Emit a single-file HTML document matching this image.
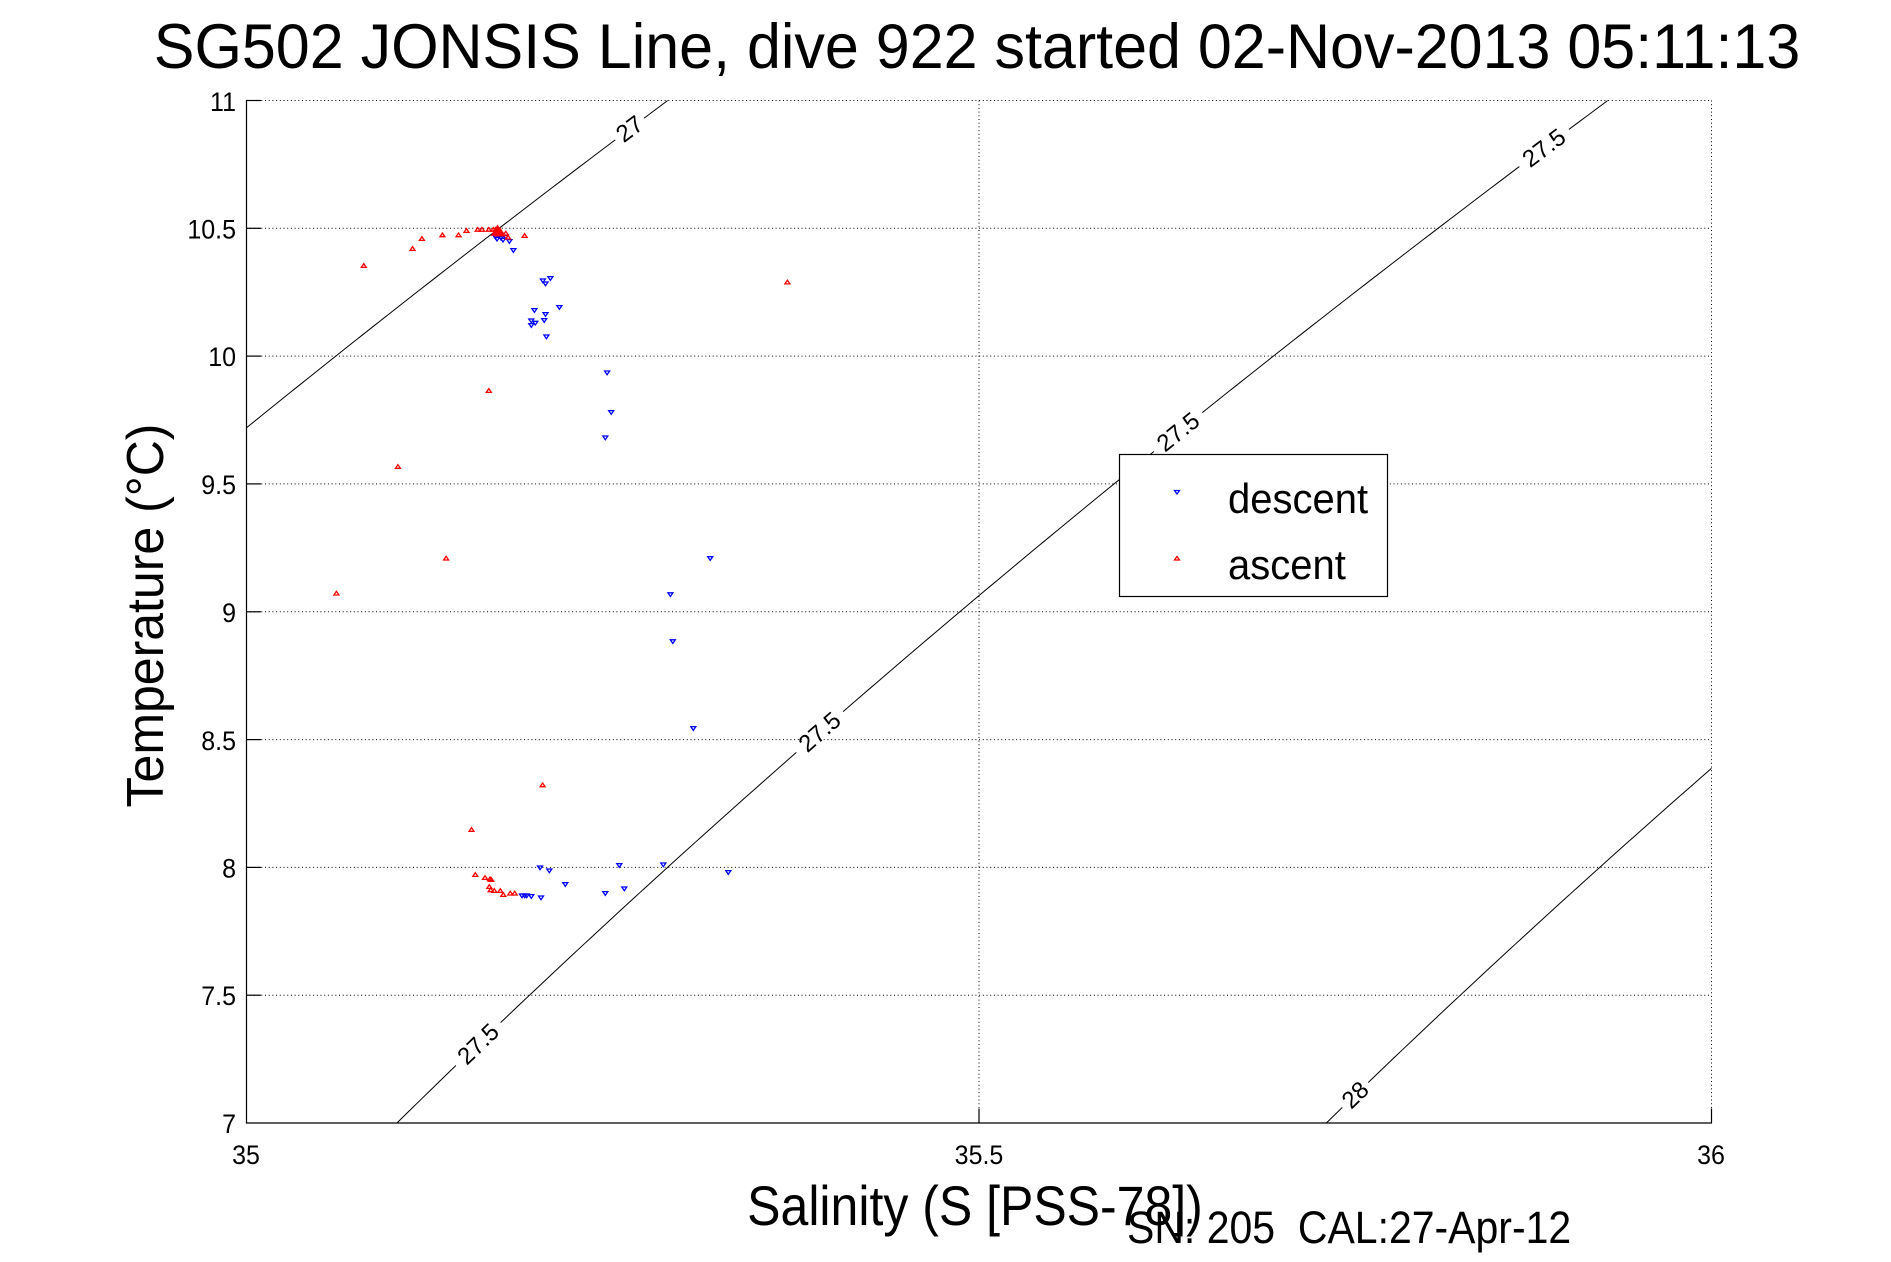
<!DOCTYPE html>
<html>
<head>
<meta charset="utf-8">
<style>
  html, body { margin: 0; padding: 0; background: #ffffff; }
  svg { display: block; }
  text { font-family: "Liberation Sans", Arial, Helvetica, sans-serif; fill: #000; }
</style>
</head>
<body>
<svg id="chart" xmlns="http://www.w3.org/2000/svg" width="1891" height="1262" viewBox="0 0 1891 1262">
  <rect x="0" y="0" width="1891" height="1262" fill="#ffffff"/>
  <defs>
    <clipPath id="plotclip">
      <rect x="246.5" y="100.5" width="1465" height="1022.5"/>
    </clipPath>
  </defs>

  <!-- Title -->
  <text transform="translate(977,68) scale(1,1.03)" x="0" y="0" font-size="61" text-anchor="middle">SG502 JONSIS Line, dive 922 started 02-Nov-2013 05:11:13</text>

  <!-- Grid (dotted) -->
  <g stroke="#000" stroke-width="1" stroke-dasharray="1 2.7" fill="none">
    <line x1="246.5" y1="100.5" x2="1711.5" y2="100.5"/>
    <line x1="246.5" y1="228.3" x2="1711.5" y2="228.3"/>
    <line x1="246.5" y1="356.1" x2="1711.5" y2="356.1"/>
    <line x1="246.5" y1="483.9" x2="1711.5" y2="483.9"/>
    <line x1="246.5" y1="611.8" x2="1711.5" y2="611.8"/>
    <line x1="246.5" y1="739.6" x2="1711.5" y2="739.6"/>
    <line x1="246.5" y1="867.4" x2="1711.5" y2="867.4"/>
    <line x1="246.5" y1="995.2" x2="1711.5" y2="995.2"/>
    <line x1="979" y1="100.5" x2="979" y2="1123"/>
    <line x1="1711.5" y1="100.5" x2="1711.5" y2="1123"/>
  </g>

  <!-- Isopycnals (generated) -->
  <g id="iso" clip-path="url(#plotclip)" stroke="#000" stroke-width="1" fill="none"></g>

  <!-- Axes -->
  <g stroke="#000" stroke-width="1.2" fill="none">
    <line x1="246.5" y1="100" x2="246.5" y2="1123.5"/>
    <line x1="246" y1="1123" x2="1712" y2="1123"/>
    <line x1="246.5" y1="100.5" x2="261" y2="100.5"/>
    <line x1="246.5" y1="228.3" x2="261" y2="228.3"/>
    <line x1="246.5" y1="356.1" x2="261" y2="356.1"/>
    <line x1="246.5" y1="483.9" x2="261" y2="483.9"/>
    <line x1="246.5" y1="611.8" x2="261" y2="611.8"/>
    <line x1="246.5" y1="739.6" x2="261" y2="739.6"/>
    <line x1="246.5" y1="867.4" x2="261" y2="867.4"/>
    <line x1="246.5" y1="995.2" x2="261" y2="995.2"/>
    <line x1="979" y1="1123" x2="979" y2="1108.5"/>
    <line x1="1711.5" y1="1123" x2="1711.5" y2="1108.5"/>
  </g>

  <!-- Y tick labels -->
  <g font-size="25" text-anchor="end">
    <text transform="translate(236,111) scale(1,1.07)">11</text>
    <text transform="translate(236,238.5) scale(1,1.07)">10.5</text>
    <text transform="translate(236,366) scale(1,1.07)">10</text>
    <text transform="translate(236,494) scale(1,1.07)">9.5</text>
    <text transform="translate(236,622) scale(1,1.07)">9</text>
    <text transform="translate(236,750) scale(1,1.07)">8.5</text>
    <text transform="translate(236,877.5) scale(1,1.07)">8</text>
    <text transform="translate(236,1005) scale(1,1.07)">7.5</text>
    <text transform="translate(236,1133) scale(1,1.07)">7</text>
  </g>
  <!-- X tick labels -->
  <g font-size="25" text-anchor="middle">
    <text transform="translate(246,1164) scale(1,1.07)">35</text>
    <text transform="translate(979,1164) scale(1,1.07)">35.5</text>
    <text transform="translate(1711,1164) scale(1,1.07)">36</text>
  </g>

  <!-- Axis labels -->
  <text transform="translate(975,1225) scale(1,1.12)" font-size="50" text-anchor="middle">Salinity (S [PSS-78])</text>
  <text transform="translate(163,615.5) rotate(-90) scale(1,1.04)" font-size="50" text-anchor="middle">Temperature (°C)</text>

  <!-- Descent markers (blue, down triangles) -->
  <g id="desc" stroke="#0000ff" stroke-width="1.3" fill="none"></g>
  <!-- Ascent markers (red, up triangles) -->
  <g id="asc" stroke="#ff0000" stroke-width="1.3" fill="none"></g>
  <polygon points="492,235 497.5,226 503,235" fill="#ff0000" stroke="#ff0000" stroke-width="1.5"/>
  <polygon points="495,236 500,228 505,236" fill="#ff0000" stroke="#ff0000" stroke-width="1"/>

  <!-- Legend -->
  <rect id="legbox" x="1119.5" y="454.5" width="268" height="142" fill="#ffffff" stroke="#000" stroke-width="1.2"/>
  <polygon points="1174.5,490.5 1179.5,490.5 1177,494" fill="none" stroke="#0000ff" stroke-width="1.3"/>
  <polygon points="1174.5,560 1179.5,560 1177,556.5" fill="none" stroke="#ff0000" stroke-width="1.3"/>
  <text transform="translate(1228,513) scale(1,1.04)" font-size="40">descent</text>
  <text transform="translate(1228,579) scale(1,1.04)" font-size="40">ascent</text>

  <!-- Footer -->
  <text transform="translate(1127,1243) scale(1,1.1)" font-size="41" style="white-space:pre" xml:space="preserve">SN: 205  CAL:27-Apr-12</text>
</svg>

<script>
(function(){
  var NS = "http://www.w3.org/2000/svg";
  function X(S){ return 246.5 + (S-35)*1465; }
  function Y(T){ return 100.5 + (11-T)*255.625; }
  function sig(S,T){
    var rw = 999.842594 + 6.793952e-2*T - 9.095290e-3*T*T + 1.001685e-4*T*T*T
             - 1.120083e-6*T*T*T*T + 6.536332e-9*T*T*T*T*T;
    var A = 8.24493e-1 - 4.0899e-3*T + 7.6438e-5*T*T - 8.2467e-7*T*T*T + 5.3875e-9*T*T*T*T;
    var B = -5.72466e-3 + 1.0227e-4*T - 1.6546e-6*T*T;
    var C = 4.8314e-4;
    return rw + A*S + B*Math.pow(S,1.5) + C*S*S - 1000;
  }
  function Sof(level,T){
    var S = 35.5;
    for (var i=0;i<40;i++){
      var f = sig(S,T)-level;
      var d = (sig(S+1e-4,T)-sig(S-1e-4,T))/2e-4;
      S -= f/d;
    }
    return S;
  }
  var iso = document.getElementById("iso");
  [27, 27.5, 28].forEach(function(lv){
    var pts = [];
    for (var T=6.5; T<=11.5001; T+=0.02){
      var S = Sof(lv,T);
      pts.push(X(S).toFixed(2)+","+Y(T).toFixed(2));
    }
    var pl = document.createElementNS(NS,"polyline");
    pl.setAttribute("points", pts.join(" "));
    iso.appendChild(pl);
  });
  var labels = [[27,"27",129],[27.5,"27.5",148],[27.5,"27.5",432],[27.5,"27.5",732],[27.5,"27.5",1044],[28,"28",1095]];
  var svg = document.getElementById("chart");
  var legendRect = document.getElementById("legbox");
  labels.forEach(function(l){
    var lv=l[0], str=l[1], yp=l[2];
    var T = 11 - (yp-100.5)/255.625;
    var S = Sof(lv,T);
    var x = X(S), y = Y(T);
    var S2 = Sof(lv,T+0.01);
    var dx = X(S2)-x, dy = Y(T+0.01)-y;
    var ang = Math.atan2(dy,dx)*180/Math.PI;
    var g = document.createElementNS(NS,"g");
    g.setAttribute("transform","translate("+x.toFixed(2)+","+y.toFixed(2)+") rotate("+ang.toFixed(2)+")");
    var w = str.length*13 + 10;
    var r = document.createElementNS(NS,"rect");
    r.setAttribute("x",(-w/2).toFixed(1)); r.setAttribute("y","-6");
    r.setAttribute("width",w.toFixed(1)); r.setAttribute("height","12");
    r.setAttribute("fill","#ffffff");
    g.appendChild(r);
    var t = document.createElementNS(NS,"text");
    t.setAttribute("x","0"); t.setAttribute("y","8");
    t.setAttribute("font-size","24");
    t.setAttribute("text-anchor","middle");
    t.textContent = str;
    g.appendChild(t);
    svg.insertBefore(g, legendRect);
  });

  var desc = [[495.5,237],[499,236],[502,235],[505.8,237],[501,238],[497,239],[503,240],
    [509.4,241.3],[513.4,250.3],[542.9,280.7],[545.5,283.7],[550.4,278.3],
    [559.4,307.3],[534.4,310.3],[545.5,314.3],[531.3,320.7],[535.3,323],[531.3,325.3],[544.2,320.3],
    [546.4,336.7],[607.1,372.7],[611.2,412.3],[605.3,437.7],
    [710.2,558.3],[670.4,594.5],[672.8,641.5],[693.3,728.3],
    [540,867.7],[549.3,870.7],[565.3,884.3],[522,895.7],[524.7,895.7],[526.7,895.7],[531.3,896.3],
    [541,897.7],[605.3,893.3],[619.3,865.3],[624.3,888.7],[663.3,864.7],[728.3,872.3]];
  var asc = [[363.8,265.7],[412.5,248.7],[421.9,238.7],[442.4,235],[458.5,235],[466.5,230.7],
    [477.7,229.5],[482,229.5],[488.8,229.5],[493.3,229.5],[495.5,229.5],[505.8,233.3],[508,237.3],
    [524.6,235.7],[488.8,390.7],[787.4,282.2],[397.9,466.6],[446.1,558.3],[336.4,593.3],
    [542.6,785],[471.5,829.6],
    [475.3,874.7],[485,877.7],[490,879],[491.3,879.7],[489.3,886.7],[490.7,890],[494.3,890.7],
    [500.3,890.7],[503.3,894.7],[510.3,893.3],[514.7,893.3]];
  var gd = document.getElementById("desc");
  desc.forEach(function(p){
    var x=p[0], y=p[1];
    var pg = document.createElementNS(NS,"polygon");
    pg.setAttribute("points",(x-2.5)+","+(y-1.7)+" "+(x+2.5)+","+(y-1.7)+" "+x+","+(y+2));
    gd.appendChild(pg);
  });
  var ga = document.getElementById("asc");
  asc.forEach(function(p){
    var x=p[0], y=p[1];
    var pg = document.createElementNS(NS,"polygon");
    pg.setAttribute("points",(x-2.5)+","+(y+1.7)+" "+(x+2.5)+","+(y+1.7)+" "+x+","+(y-2));
    ga.appendChild(pg);
  });
})();
</script>
</body>
</html>
